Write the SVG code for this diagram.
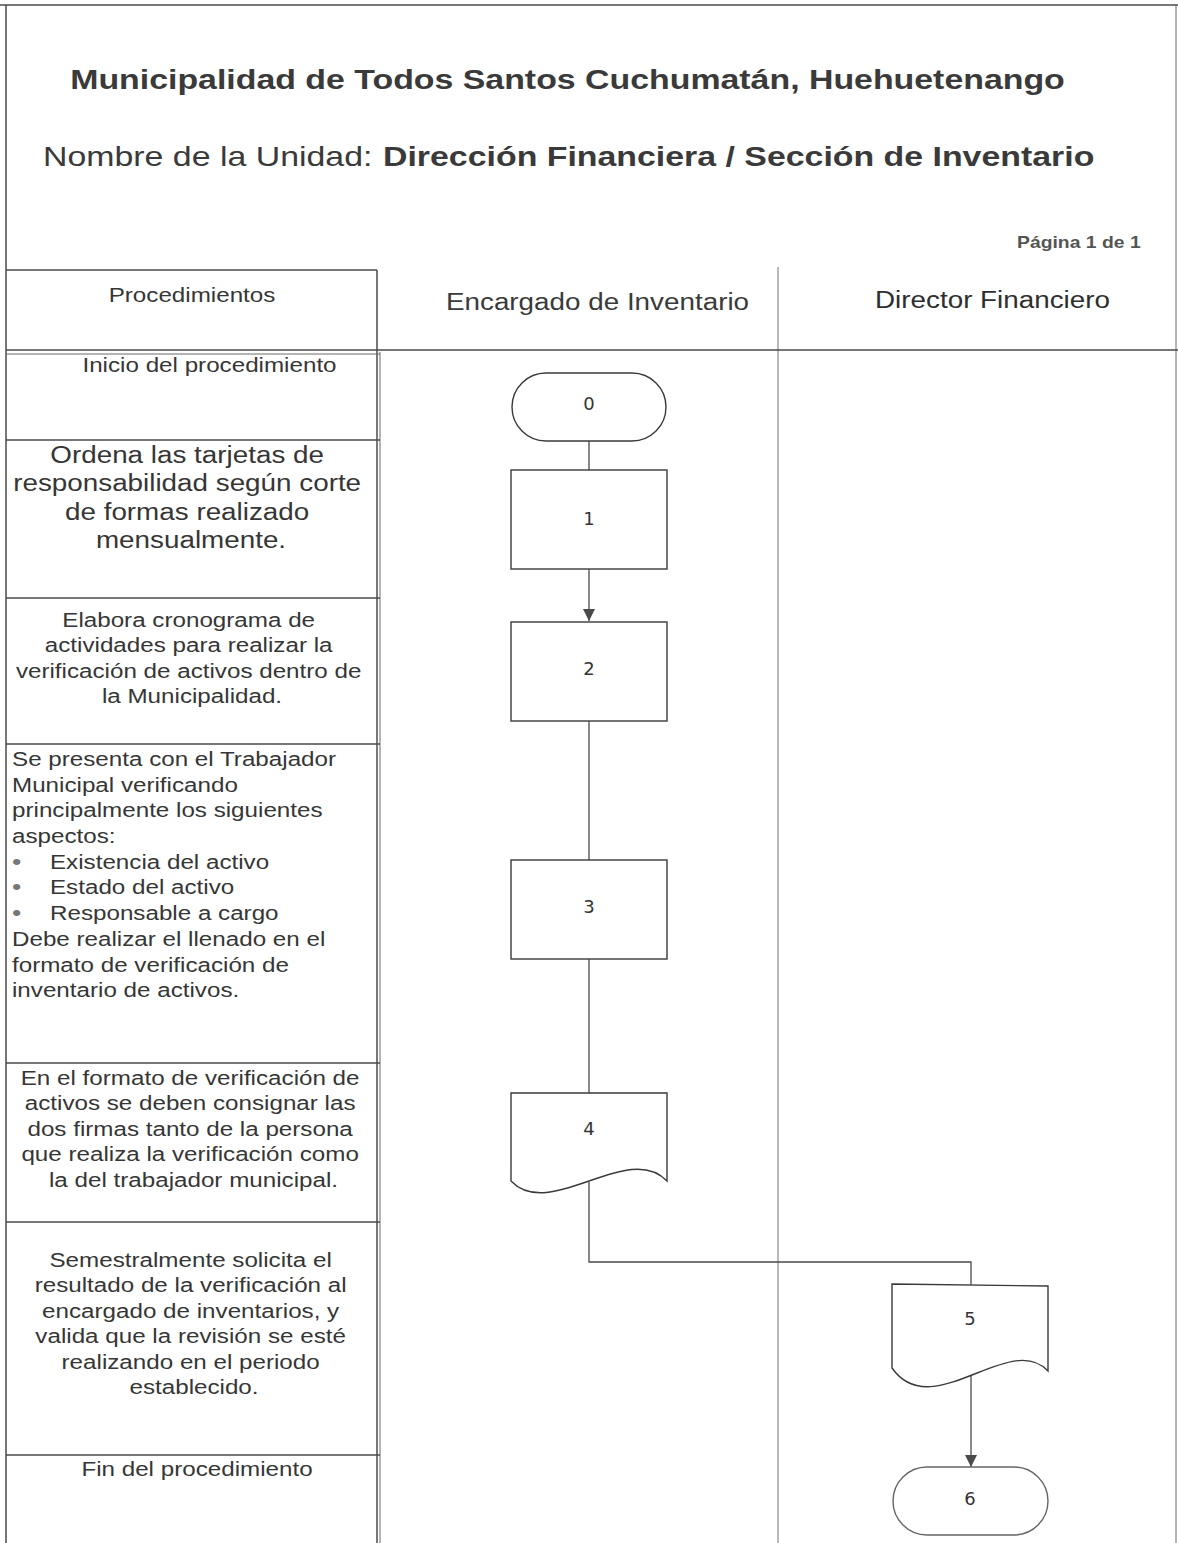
<svg xmlns="http://www.w3.org/2000/svg" width="1178" height="1543" viewBox="0 0 1178 1543">
<style>
  text { font-family: "Liberation Sans", Arial, sans-serif; fill: #363636; }
  .title { font-size: 28px; font-weight: bold; fill: #3a3a3a; }
  .sub { font-size: 28px; fill: #3a3a3a; }
  .subb { font-size: 28px; font-weight: bold; fill: #3a3a3a; }
  .page { font-size: 16px; font-weight: bold; fill: #555; }
  .hdr { font-size: 23px; fill: #3a3a3a; }
  .p20 { font-size: 20px; }
  .p23 { font-size: 23px; }
  .bul { font-size: 22px; fill: #777; }
  .num { font-family: "DejaVu Sans", Verdana, sans-serif; font-size: 18px; fill: #333; text-anchor: middle; }
  .frame { stroke: #4a4a4a; stroke-width: 1.5; fill: none; }
  .thin { stroke: #6a6a6a; stroke-width: 1; fill: none; }
  .lane { stroke: #8a8a8a; stroke-width: 1.2; fill: none; }
  .shape { stroke: #3a3a3a; stroke-width: 1.4; fill: #fff; }
  .conn { stroke: #4a4a4a; stroke-width: 1.3; fill: none; }
</style>
<defs>
  <marker id="arr" viewBox="0 0 10 10" refX="10" refY="5" markerWidth="12" markerHeight="12" markerUnits="userSpaceOnUse" orient="auto">
    <path d="M0,0 L10,5 L0,10 Z" fill="#4a4a4a"/>
  </marker>
</defs>
<rect width="1178" height="1543" fill="#fff"/>

<g id="frame">
  <line class="frame" x1="0" y1="5" x2="1178" y2="5"/>
  <line class="frame" x1="6" y1="5" x2="6" y2="1543"/>
  <line class="thin" x1="1176" y1="5" x2="1176" y2="1543"/>
  <line class="frame" x1="6" y1="270" x2="377" y2="270"/>
  <line class="frame" x1="377" y1="270" x2="377" y2="1543"/>
  <line class="thin" x1="380" y1="352" x2="380" y2="1543"/>
  <line class="lane" x1="778" y1="267" x2="778" y2="1543"/>
  <line class="frame" x1="6" y1="350" x2="1178" y2="350"/>
  <line class="thin" x1="6" y1="354" x2="380" y2="354"/>
  <line class="frame" x1="6" y1="440" x2="380" y2="440"/>
  <line class="frame" x1="6" y1="598" x2="380" y2="598"/>
  <line class="frame" x1="6" y1="744" x2="380" y2="744"/>
  <line class="frame" x1="6" y1="1063" x2="380" y2="1063"/>
  <line class="frame" x1="6" y1="1222" x2="380" y2="1222"/>
  <line class="frame" x1="6" y1="1455" x2="380" y2="1455"/>
</g>

<g id="header">
  <text class="title" transform="translate(567.5 89) scale(1.21 1)" text-anchor="middle">Municipalidad de Todos Santos Cuchumatán, Huehuetenango</text>
  <text class="sub" transform="translate(43 166) scale(1.21 1)">Nombre de la Unidad:</text>
  <text class="subb" transform="translate(383 166) scale(1.21 1)">Dirección Financiera / Sección de Inventario</text>
  <text class="page" transform="translate(1017 248) scale(1.21 1)">Página 1 de 1</text>
  <text class="p20" transform="translate(192 302) scale(1.21 1)" text-anchor="middle">Procedimientos</text>
  <text class="hdr" transform="translate(597.5 310) scale(1.21 1)" text-anchor="middle">Encargado de Inventario</text>
  <text class="hdr" transform="translate(992.5 308) scale(1.21 1)" text-anchor="middle" style="fill:#2e2e2e">Director Financiero</text>
</g>

<g id="procedures">
  <text class="p20" transform="translate(209.5 372) scale(1.21 1)" text-anchor="middle">Inicio del procedimiento</text>
  <text class="p23" transform="translate(191 463) scale(1.21 1)" text-anchor="middle">
    <tspan x="0" y="0">Ordena las tarjetas de</tspan>
    <tspan x="0" dy="28.5">responsabilidad según corte</tspan>
    <tspan x="0" dy="28.5">de formas realizado</tspan>
    <tspan x="0" dy="28.5">mensualmente.</tspan>
  </text>
  <text class="p20" transform="translate(192 627) scale(1.21 1)" text-anchor="middle">
    <tspan x="0" y="0">Elabora cronograma de</tspan>
    <tspan x="0" dy="25.3">actividades para realizar la</tspan>
    <tspan x="0" dy="25.3">verificación de activos dentro de</tspan>
    <tspan x="0" dy="25.3">la Municipalidad.</tspan>
  </text>
  <text class="p20" transform="translate(12 766) scale(1.21 1)">
    <tspan x="0" y="0">Se presenta con el Trabajador</tspan>
    <tspan x="0" dy="25.7">Municipal verificando</tspan>
    <tspan x="0" dy="25.7">principalmente los siguientes</tspan>
    <tspan x="0" dy="25.7">aspectos:</tspan>
    <tspan x="0" dy="25.7" class="bul">•</tspan><tspan x="31.4">Existencia del activo</tspan>
    <tspan x="0" dy="25.7" class="bul">•</tspan><tspan x="31.4">Estado del activo</tspan>
    <tspan x="0" dy="25.7" class="bul">•</tspan><tspan x="31.4">Responsable a cargo</tspan>
    <tspan x="0" dy="25.7">Debe realizar el llenado en el</tspan>
    <tspan x="0" dy="25.7">formato de verificación de</tspan>
    <tspan x="0" dy="25.7">inventario de activos.</tspan>
  </text>
  <text class="p20" transform="translate(193.5 1085) scale(1.21 1)" text-anchor="middle">
    <tspan x="0" y="0">En el formato de verificación de</tspan>
    <tspan x="0" dy="25.5">activos se deben consignar las</tspan>
    <tspan x="0" dy="25.5">dos firmas tanto de la persona</tspan>
    <tspan x="0" dy="25.5">que realiza la verificación como</tspan>
    <tspan x="0" dy="25.5">la del trabajador municipal.</tspan>
  </text>
  <text class="p20" transform="translate(194 1267) scale(1.21 1)" text-anchor="middle">
    <tspan x="0" y="0">Semestralmente solicita el</tspan>
    <tspan x="0" dy="25.4">resultado de la verificación al</tspan>
    <tspan x="0" dy="25.4">encargado de inventarios, y</tspan>
    <tspan x="0" dy="25.4">valida que la revisión se esté</tspan>
    <tspan x="0" dy="25.4">realizando en el periodo</tspan>
    <tspan x="0" dy="25.4">establecido.</tspan>
  </text>
  <text class="p20" transform="translate(197 1476) scale(1.21 1)" text-anchor="middle">Fin del procedimiento</text>
</g>

<g id="connectors">
  <line class="conn" x1="589" y1="441" x2="589" y2="470"/>
  <line class="conn" x1="589" y1="569" x2="589" y2="621" marker-end="url(#arr)"/>
  <line class="conn" x1="589" y1="721" x2="589" y2="860"/>
  <line class="conn" x1="589" y1="959" x2="589" y2="1093"/>
  <polyline class="conn" points="589,1182 589,1262 971,1262 971,1285"/>
  <line class="conn" x1="971" y1="1372" x2="971" y2="1467" marker-end="url(#arr)"/>
</g>

<g id="node0">
  <rect class="shape" x="512" y="373" width="154" height="68" rx="34" ry="34"/>
  <text class="num" x="589" y="410">0</text>
</g>
<g id="node1">
  <rect class="shape" x="511" y="470" width="156" height="99"/>
  <text class="num" x="589" y="525">1</text>
</g>
<g id="node2">
  <rect class="shape" x="511" y="622" width="156" height="99"/>
  <text class="num" x="589" y="675">2</text>
</g>
<g id="node3">
  <rect class="shape" x="511" y="860" width="156" height="99"/>
  <text class="num" x="589" y="913">3</text>
</g>
<g id="node4">
  <path class="shape" d="M511,1093 H667 V1181 C628,1140 550,1222 511,1181 Z"/>
  <text class="num" x="589" y="1135">4</text>
</g>
<g id="node5">
  <path class="shape" d="M892,1284 L1048,1286 V1371 C1010,1330 932,1425 892,1368 Z"/>
  <text class="num" x="970" y="1325">5</text>
</g>
<g id="node6">
  <rect class="shape" x="893" y="1467" width="155" height="68" rx="34" ry="34" style="stroke:#666"/>
  <text class="num" x="970" y="1505">6</text>
</g>
</svg>
